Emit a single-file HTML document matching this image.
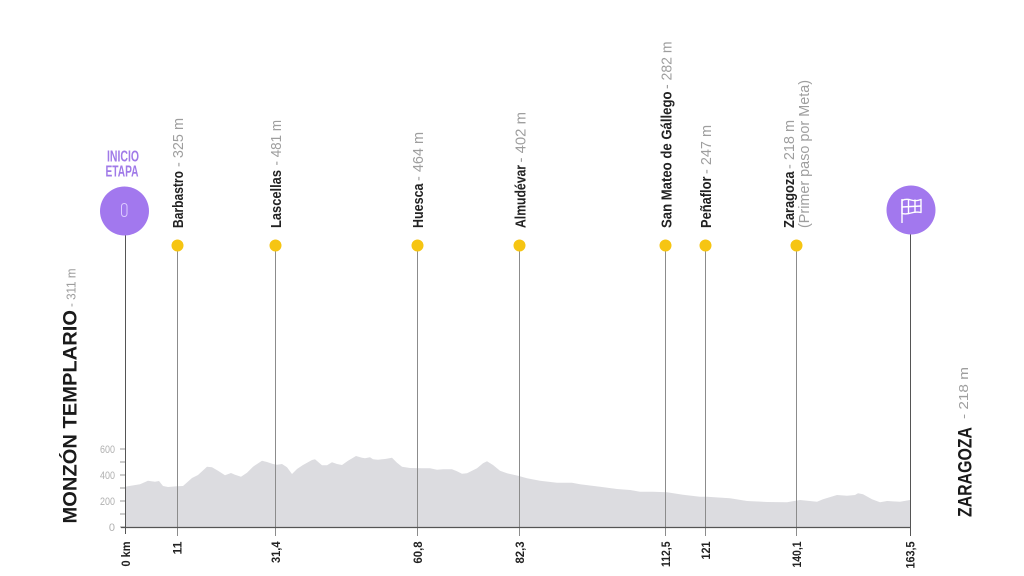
<!DOCTYPE html>
<html>
<head>
<meta charset="utf-8">
<style>
  html,body{margin:0;padding:0;background:#fff;}
  svg{display:block;}
  .b{font-family:"Liberation Sans Narrow","Liberation Sans",sans-serif;font-weight:bold;fill:#222;}
  .g{font-family:"Liberation Sans Narrow","Liberation Sans",sans-serif;font-weight:normal;fill:#9e9e9e;}
  .t{font-family:"Liberation Sans Narrow","Liberation Sans",sans-serif;font-size:11px;fill:#b0b0b0;}
  .k{font-family:"Liberation Sans Narrow","Liberation Sans",sans-serif;font-weight:bold;font-size:12px;fill:#222;}
</style>
</head>
<body>
<svg width="1024" height="576" viewBox="0 0 1024 576" xmlns="http://www.w3.org/2000/svg">
  <rect width="1024" height="576" fill="#fff"/>

  <!-- profile fill -->
  <path fill="#dcdce0" d="M125,527 L125,486.7 L140,484.3 L148,480.7 L155,481.7 L159,481 L163,486 L168,487 L177,486.3 L183,486 L192,478 L198,475 L207,466.7 L212,467.3 L218,470.7 L225,475.3 L231,473 L235,474.7 L241,476.7 L247,472.7 L253,466.7 L262,460.7 L267,462 L273,464 L277,464.7 L282,464 L287,467.3 L292,474 L297,469 L303,465 L312,460 L315,459.3 L322,465.3 L327,465.3 L332,462.3 L337,464 L342,465 L348,460.7 L356,456 L362,457.7 L365,458.3 L370,457.3 L373,459.3 L378,459.7 L385,459 L392,457.7 L397,462.7 L402,466.7 L410,468 L423,468.3 L430,468.3 L437,469.7 L443,469.3 L452,469.3 L457,471.3 L462,473.7 L467,473.3 L477,468.3 L483,463.3 L487,461.3 L493,465 L500,470.7 L507,473.3 L518,475.7 L527,478.3 L540,480.7 L557,482.7 L572,482.7 L580,484.3 L600,486.7 L617,489 L630,490 L640,491.7 L653,491.7 L667,492.3 L683,494.7 L700,496.7 L707,496.7 L730,498.3 L747,501 L767,502 L787,502.3 L800,500 L817,501.7 L823,499.3 L837,495 L847,495.7 L855,495 L858,493.3 L863,494.3 L872,499.3 L880,502.3 L887,501 L900,501.7 L910,500 L910,527 Z"/>

  <!-- y axis ticks -->
  <g stroke="#9a9a9a" stroke-width="1">
    <line x1="120" y1="527" x2="125" y2="527"/>
    <line x1="120" y1="514" x2="125" y2="514"/>
    <line x1="120" y1="501" x2="125" y2="501"/>
    <line x1="120" y1="488" x2="125" y2="488"/>
    <line x1="120" y1="475" x2="125" y2="475"/>
    <line x1="120" y1="462" x2="125" y2="462"/>
    <line x1="120" y1="449" x2="125" y2="449"/>
  </g>
  <text class="t" x="115" y="531" text-anchor="end">0</text>
  <text class="t" x="115" y="505" text-anchor="end" textLength="15" lengthAdjust="spacingAndGlyphs">200</text>
  <text class="t" x="115" y="479" text-anchor="end" textLength="15" lengthAdjust="spacingAndGlyphs">400</text>
  <text class="t" x="115" y="453" text-anchor="end" textLength="15" lengthAdjust="spacingAndGlyphs">600</text>

  <!-- waypoint lines -->
  <g stroke="#8c8c8c" stroke-width="1">
    <line x1="177.5" y1="245" x2="177.5" y2="536"/>
    <line x1="275.5" y1="245" x2="275.5" y2="536"/>
    <line x1="417.5" y1="245" x2="417.5" y2="536"/>
    <line x1="519.5" y1="245" x2="519.5" y2="536"/>
    <line x1="665.5" y1="245" x2="665.5" y2="536"/>
    <line x1="705.5" y1="245" x2="705.5" y2="536"/>
    <line x1="796.5" y1="245" x2="796.5" y2="536"/>
  </g>

  <!-- start/finish lines and baseline -->
  <line x1="125.5" y1="234" x2="125.5" y2="534" stroke="#555" stroke-width="1"/>
  <line x1="910.5" y1="234" x2="910.5" y2="536" stroke="#555" stroke-width="1"/>
  <line x1="121" y1="527.5" x2="911" y2="527.5" stroke="#555" stroke-width="1.3"/>

  <!-- dots -->
  <g fill="#f6c512">
    <circle cx="177.5" cy="245.5" r="6"/>
    <circle cx="275.5" cy="245.5" r="6"/>
    <circle cx="417.5" cy="245.5" r="6"/>
    <circle cx="519.5" cy="245.5" r="6"/>
    <circle cx="665.5" cy="245.5" r="6"/>
    <circle cx="705.5" cy="245.5" r="6"/>
    <circle cx="796.5" cy="245.5" r="6"/>
  </g>

  <!-- start circle -->
  <circle cx="124.5" cy="211" r="24.5" fill="#a278ee"/>
  <rect x="121.5" y="203.5" width="5.5" height="13" rx="2.7" fill="none" stroke="#dccbff" stroke-width="1"/>
  <text x="123" y="161.5" text-anchor="middle" font-family="Liberation Sans Narrow, Liberation Sans, sans-serif" font-weight="bold" font-size="16" fill="#a07ae8" textLength="32" lengthAdjust="spacingAndGlyphs">INICIO</text>
  <text x="122" y="176.5" text-anchor="middle" font-family="Liberation Sans Narrow, Liberation Sans, sans-serif" font-weight="bold" font-size="16" fill="#a07ae8" textLength="33" lengthAdjust="spacingAndGlyphs">ETAPA</text>

  <!-- finish circle -->
  <circle cx="911" cy="210" r="24.5" fill="#a278ee"/>
  <g stroke="#fff" stroke-width="1.4" fill="none" stroke-linejoin="round">
    <line x1="902" y1="199" x2="902" y2="223"/>
    <path d="M902,200.5 Q906,198.5 911,200 T921,199.5 L921,212.5 Q916,211.5 911,213 T902,213.5 Z"/>
    <line x1="908.5" y1="199.5" x2="908.5" y2="213.3"/>
    <line x1="915" y1="199.5" x2="915" y2="212.5"/>
    <line x1="902" y1="207" x2="921" y2="206"/>
  </g>

  <!-- waypoint labels -->
  <g transform="translate(183,228) rotate(-90)">
    <text class="b" x="0" y="0" font-size="15" textLength="57" lengthAdjust="spacingAndGlyphs">Barbastro</text>
    <text class="g" x="61" y="0" font-size="15" textLength="49" lengthAdjust="spacingAndGlyphs">- 325 m</text>
  </g>
  <g transform="translate(281,228) rotate(-90)">
    <text class="b" x="0" y="0" font-size="15" textLength="58" lengthAdjust="spacingAndGlyphs">Lascellas</text>
    <text class="g" x="62.5" y="0" font-size="15" textLength="45.5" lengthAdjust="spacingAndGlyphs">- 481 m</text>
  </g>
  <g transform="translate(423,228) rotate(-90)">
    <text class="b" x="0" y="0" font-size="15" textLength="44.5" lengthAdjust="spacingAndGlyphs">Huesca</text>
    <text class="g" x="47" y="0" font-size="15" textLength="49" lengthAdjust="spacingAndGlyphs">- 464 m</text>
  </g>
  <g transform="translate(525.5,228) rotate(-90)">
    <text class="b" x="0" y="0" font-size="15" textLength="63" lengthAdjust="spacingAndGlyphs">Almudévar</text>
    <text class="g" x="65.5" y="0" font-size="15" textLength="50.5" lengthAdjust="spacingAndGlyphs">- 402 m</text>
  </g>
  <g transform="translate(671.5,228) rotate(-90)">
    <text class="b" x="0" y="0" font-size="15" textLength="136.5" lengthAdjust="spacingAndGlyphs">San Mateo de Gállego</text>
    <text class="g" x="139" y="0" font-size="15" textLength="47.5" lengthAdjust="spacingAndGlyphs">- 282 m</text>
  </g>
  <g transform="translate(711,228) rotate(-90)">
    <text class="b" x="0" y="0" font-size="15" textLength="51.5" lengthAdjust="spacingAndGlyphs">Peñaflor</text>
    <text class="g" x="54" y="0" font-size="15" textLength="49" lengthAdjust="spacingAndGlyphs">- 247 m</text>
  </g>
  <g transform="translate(794,228) rotate(-90)">
    <text class="b" x="0" y="0" font-size="15" textLength="56.5" lengthAdjust="spacingAndGlyphs">Zaragoza</text>
    <text class="g" x="59" y="0" font-size="15" textLength="49" lengthAdjust="spacingAndGlyphs">- 218 m</text>
    <text class="g" x="0" y="15" font-size="15" textLength="148" lengthAdjust="spacingAndGlyphs">(Primer paso por Meta)</text>
  </g>

  <!-- left title -->
  <g transform="translate(76.5,523.5) rotate(-90)">
    <text class="b" x="0" y="0" font-size="19" textLength="213.5" lengthAdjust="spacingAndGlyphs" style="fill:#1a1a1a">MONZÓN TEMPLARIO</text>
  </g>
  <g transform="translate(75.5,523.5) rotate(-90)">
    <text class="g" x="216.5" y="0" font-size="13" textLength="38.5" lengthAdjust="spacingAndGlyphs">- 311 m</text>
  </g>
  <!-- right title -->
  <g transform="translate(971.5,517) rotate(-90)">
    <text class="b" x="0" y="0" font-size="19" textLength="90" lengthAdjust="spacingAndGlyphs" style="fill:#1a1a1a">ZARAGOZA</text>
  </g>
  <g transform="translate(968,517) rotate(-90)">
    <text class="g" x="98" y="0" font-size="13" textLength="52" lengthAdjust="spacingAndGlyphs">- 218 m</text>
  </g>

  <!-- km labels -->
  <g transform="translate(130,541.5) rotate(-90)"><text class="k" x="0" y="0" text-anchor="end" textLength="25" lengthAdjust="spacingAndGlyphs">0 km</text></g>
  <g transform="translate(181.5,541.5) rotate(-90)"><text class="k" x="0" y="0" text-anchor="end" textLength="13" lengthAdjust="spacingAndGlyphs">11</text></g>
  <g transform="translate(280,541.5) rotate(-90)"><text class="k" x="0" y="0" text-anchor="end" textLength="21.5" lengthAdjust="spacingAndGlyphs">31,4</text></g>
  <g transform="translate(422,541.5) rotate(-90)"><text class="k" x="0" y="0" text-anchor="end" textLength="22" lengthAdjust="spacingAndGlyphs">60,8</text></g>
  <g transform="translate(524,541.5) rotate(-90)"><text class="k" x="0" y="0" text-anchor="end" textLength="22" lengthAdjust="spacingAndGlyphs">82,3</text></g>
  <g transform="translate(670,541.5) rotate(-90)"><text class="k" x="0" y="0" text-anchor="end" textLength="25.5" lengthAdjust="spacingAndGlyphs">112,5</text></g>
  <g transform="translate(710,541.5) rotate(-90)"><text class="k" x="0" y="0" text-anchor="end" textLength="18" lengthAdjust="spacingAndGlyphs">121</text></g>
  <g transform="translate(801,541.5) rotate(-90)"><text class="k" x="0" y="0" text-anchor="end" textLength="26" lengthAdjust="spacingAndGlyphs">140,1</text></g>
  <g transform="translate(914.5,541.5) rotate(-90)"><text class="k" x="0" y="0" text-anchor="end" textLength="27" lengthAdjust="spacingAndGlyphs">163,5</text></g>
</svg>
</body>
</html>
